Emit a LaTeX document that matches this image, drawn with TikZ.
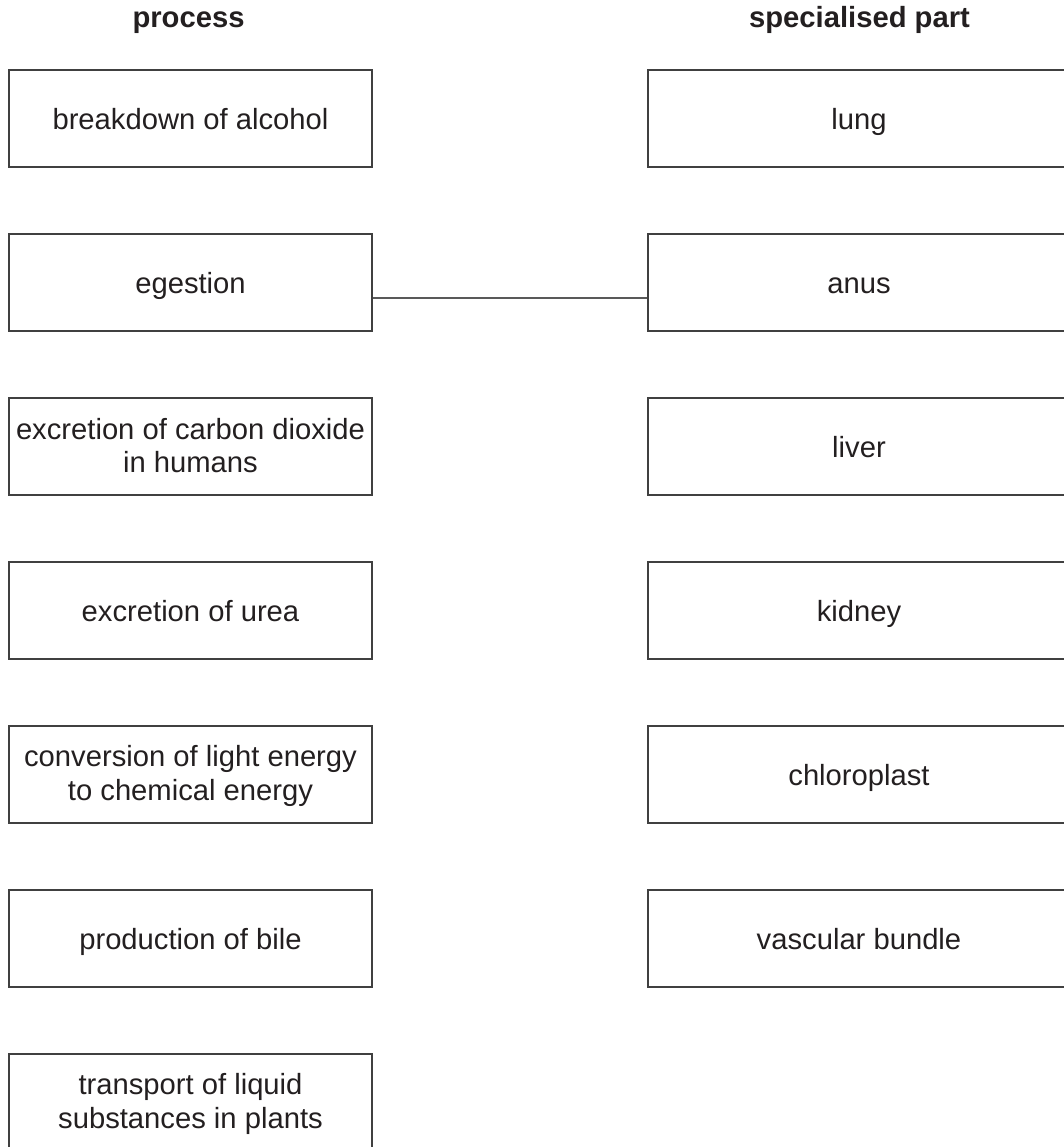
\documentclass[tikz,border=0pt]{standalone}
\usepackage{fontspec}
\setmainfont{Liberation Sans}
\definecolor{ink}{HTML}{231F20}
\begin{document}
\begin{tikzpicture}[x=1pt,y=-1pt,
  every node/.style={text=ink},
  box/.style={draw=black!75, line width=1.3pt, inner sep=0pt, align=center,
    font=\fontsize{29.2}{33.5}\selectfont},
  lbox/.style={box, minimum width=363pt, minimum height=97pt},
  rbox/.style={box, minimum width=422pt, minimum height=97pt},
  single/.style={text height=21.6pt, text depth=0pt},
  head/.style={anchor=base, font=\fontsize{29.2}{31}\selectfont\bfseries},
  link/.style={draw=black!65, line width=1.3pt}]
\useasboundingbox (0,0) rectangle (1063,1147);
\newcommand{\ftop}{\rule{0pt}{24.5pt}}
\newcommand{\fbot}{\rule[-6pt]{0pt}{6pt}}
\node[head] (hp) at (188.5,28) {process};
\node[head] (hs) at (859.5,28) {specialised part};
\node[lbox,single] (l1) at (190.5,118.5) {breakdown of alcohol};
\node[lbox,single] (l2) at (190.5,282.5) {egestion};
\node[lbox] (l3) at (190.5,446.5) {\ftop excretion of carbon dioxide\\in humans\fbot};
\node[lbox,single] (l4) at (190.5,610.5) {excretion of urea};
\node[lbox] (l5) at (190.5,774.5) {\ftop conversion of light energy\\to chemical energy\fbot};
\node[lbox,single] (l6) at (190.5,938.5) {production of bile};
\node[lbox] (l7) at (190.5,1102.5) {\ftop transport of liquid\\substances in plants\fbot};
\node[rbox,single] (r1) at (859,118.5) {lung};
\node[rbox,single] (r2) at (859,282.5) {anus};
\node[rbox,single] (r3) at (859,446.5) {liver};
\node[rbox,single] (r4) at (859,610.5) {kidney};
\node[rbox,single] (r5) at (859,774.5) {chloroplast};
\node[rbox,single] (r6) at (859,938.5) {vascular bundle};
\draw[link] ([yshift=-15.5pt]l2.east) -- ([yshift=-15.5pt]r2.west);
\end{tikzpicture}
\end{document}
